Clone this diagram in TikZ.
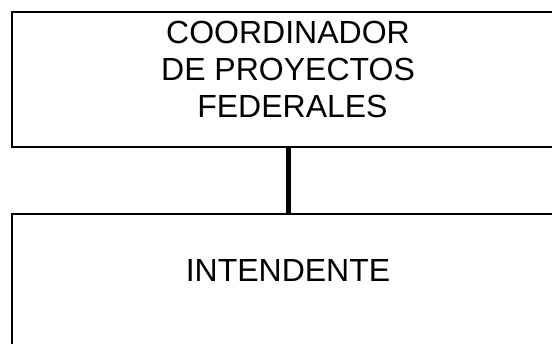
\documentclass[tikz,border=0pt]{standalone}
\usepackage{fontspec}
\setmainfont{Liberation Sans}
\usepackage{tikz}
\usetikzlibrary{
  positioning,
  calc
}

\begin{document}
\begin{tikzpicture}[
    x=1pt, y=-1pt,
    box/.style={draw, line width=1.5pt, minimum width=552pt, minimum height=135pt, inner sep=0pt},
    lbl/.style={align=center, inner sep=0pt, font=\fontsize{32}{37}\selectfont}
]
    % 画布范围
    \useasboundingbox (0, 0) rectangle (552, 343);
    \clip (0, 0) rectangle (552, 343);

    % 方框
    \node[box] (coord) at (288, 79.5) {};
    \node[box] (intend) at (288, 281.5) {};

    % 连线
    \draw[line width=5pt] (coord.south) -- (intend.north);

    % 文字
    \node[lbl, anchor=north] (coordtxt) at ([yshift=-10pt]coord.north) {COORDINADOR\\DE PROYECTOS\\~FEDERALES};
    \node[lbl, anchor=base] (intendtxt) at ([yshift=-68pt]intend.north) {INTENDENTE};
\end{tikzpicture}
\end{document}
